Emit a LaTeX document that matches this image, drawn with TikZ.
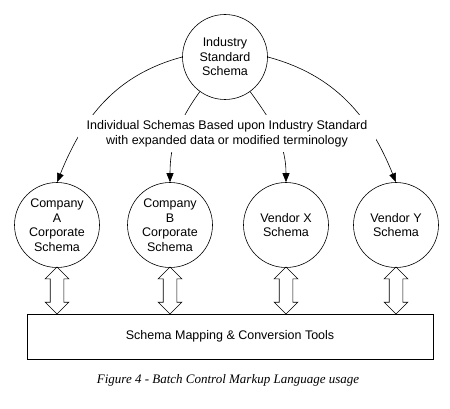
\documentclass[tikz,border=0pt]{standalone}
\usepackage{fontspec}
\setmainfont{Liberation Sans}
\newfontfamily\capfont{Liberation Serif}
\usetikzlibrary{arrows.meta,shapes.arrows}

\begin{document}
\begin{tikzpicture}[
    x=1pt, y=-1pt, line width=0.6pt,
    every node/.style={font=\fontsize{12.5}{14.5}\selectfont,align=center,inner sep=0pt},
    schema/.style={draw,circle,minimum size=85pt},
    link/.style={-{Triangle[length=9pt,width=7pt]}},
    dblarrow/.style={draw,double arrow,rotate=90,minimum height=47pt,inner xsep=0pt,inner ysep=6.5pt,double arrow head extend=5pt}
  ]
    \useasboundingbox (0,0) rectangle (450,409);
    \node[schema] (std)   at (225,57)  {Industry\\Standard\\Schema};
    \node[schema] (compA) at (57,225)  {Company\\A\\Corporate\\Schema};
    \node[schema] (compB) at (170,225) {Company\\B\\Corporate\\Schema};
    \node[schema] (vendX) at (286,225) {Vendor X\\Schema};
    \node[schema] (vendY) at (396,225) {Vendor Y\\Schema};

    \draw[link] (std.west) to[out=195,in=68] (compA.north);
    \draw[link] (std.234) to[out=234,in=90] (compB.north);
    \draw[link] (std.306) to[out=306,in=90] (vendX.north);
    \draw[link] (std.east) to[out=-15,in=112] (vendY.north);

    \node[fill=white,minimum width=298pt,minimum height=37pt] (note) at (227,134)
      {Individual Schemas Based upon Industry Standard\\with expanded data or modified terminology};

    \node[draw,minimum width=406pt,minimum height=45pt] (tools) at (230,336.5) {Schema Mapping \& Conversion Tools};

    \node[dblarrow] (dA) at (57,290.5)  {};
    \node[dblarrow] (dB) at (170,290.5) {};
    \node[dblarrow] (dX) at (286,290.5) {};
    \node[dblarrow] (dY) at (396,290.5) {};

    \node[font=\capfont\itshape\fontsize{13}{15}\selectfont] (caption) at (228,380)
      {Figure 4 - Batch Control Markup Language usage};
  \end{tikzpicture}
\end{document}
